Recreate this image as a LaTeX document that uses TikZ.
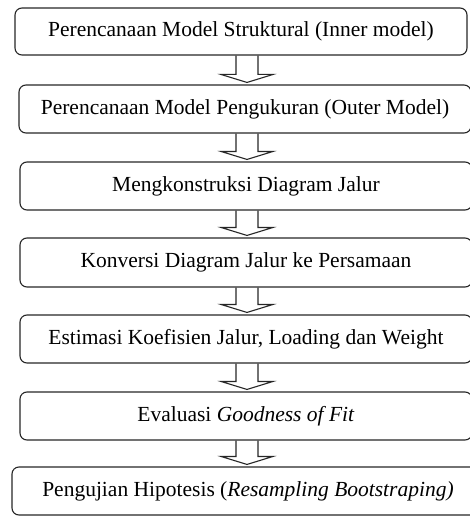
\documentclass[tikz,border=0pt]{standalone}
\usepackage{fontspec}
\setmainfont{Liberation Serif}
\usetikzlibrary{calc}
\tikzset{
  stepbox/.style={draw=black!85, line width=1.1pt, rounded corners=7pt, inner sep=0pt,
    minimum height=48pt, font=\fontsize{21.5}{24}\selectfont},
  arrowline/.style={draw=black!85, line width=1.1pt, line join=miter}
}
\newcommand{\flowarrow}[2]{%
  \path let \p1=(#1.south), \p2=(#2.north) in
    [arrowline] (236pt,\y1) -- (236pt,\y2+10pt) -- (221pt,\y2+10pt) -- (247pt,\y2+2pt)
    -- (273pt,\y2+10pt) -- (258pt,\y2+10pt) -- (258pt,\y1);
}
\begin{document}
\begin{tikzpicture}[x=1pt,y=-1pt]
\useasboundingbox (0,0) rectangle (469,516);
\node[stepbox, minimum width=452pt, minimum height=47pt] (b1) at (241,31.5) {Perencanaan Model Struktural (Inner model)};
\node[stepbox, minimum width=452pt] (b2) at (245,109) {Perencanaan Model Pengukuran (Outer Model)};
\node[stepbox, minimum width=452pt] (b3) at (246,186) {Mengkonstruksi Diagram Jalur};
\node[stepbox, minimum width=452pt, minimum height=49pt] (b4) at (246,262.5) {Konversi Diagram Jalur ke Persamaan};
\node[stepbox, minimum width=452pt] (b5) at (246,339) {Estimasi Koefisien Jalur, Loading dan Weight};
\node[stepbox, minimum width=452pt] (b6) at (246,416) {Evaluasi \textit{Goodness of Fit}};
\node[stepbox, minimum width=472pt] (b7) at (248,491) {Pengujian Hipotesis (\textit{Resampling Bootstraping)}};
\flowarrow{b1}{b2}
\flowarrow{b2}{b3}
\flowarrow{b3}{b4}
\flowarrow{b4}{b5}
\flowarrow{b5}{b6}
\flowarrow{b6}{b7}
\end{tikzpicture}
\end{document}
